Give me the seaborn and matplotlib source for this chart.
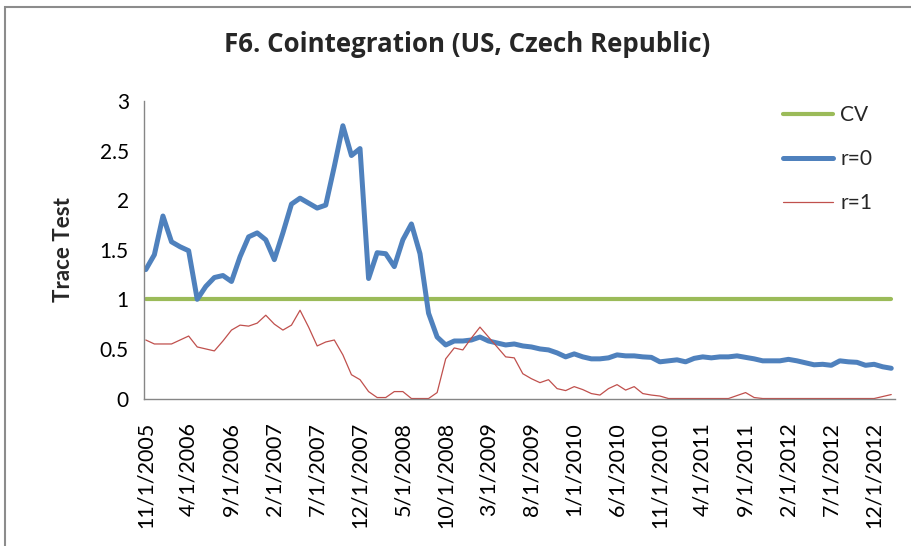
import numpy as np
import pandas as pd
import matplotlib
matplotlib.use("Agg")
import matplotlib.pyplot as plt
import seaborn as sns
from matplotlib.patches import Rectangle

# monthly observations, 11/1/2005 .. 2/1/2013
months = pd.date_range("2005-11-01", "2013-02-01", freq="MS")

# trace test statistics (scaled by the critical value)
r0 = [
    1.30, 1.45, 1.84, 1.58, 1.53, 1.49, 1.00, 1.13, 1.22, 1.24,
    1.18, 1.43, 1.63, 1.67, 1.60, 1.40, 1.67, 1.96, 2.02, 1.97,
    1.92, 1.95, 2.34, 2.75, 2.45, 2.52, 1.21, 1.47, 1.46, 1.33,
    1.60, 1.76, 1.46, 0.86, 0.62, 0.54, 0.58, 0.58, 0.59, 0.62,
    0.58, 0.56, 0.54, 0.55, 0.53, 0.52, 0.50, 0.49, 0.46, 0.42,
    0.45, 0.42, 0.40, 0.40, 0.41, 0.44, 0.43, 0.43, 0.42, 0.415,
    0.37, 0.38, 0.39, 0.37, 0.405, 0.42, 0.41, 0.42, 0.42, 0.43,
    0.415, 0.40, 0.38, 0.38, 0.38, 0.395, 0.38, 0.36, 0.34, 0.345,
    0.335, 0.38, 0.37, 0.365, 0.335, 0.345, 0.32, 0.305,
]
r1 = [
    0.59, 0.55, 0.55, 0.55, 0.59, 0.63, 0.52, 0.50, 0.48, 0.58,
    0.69, 0.74, 0.73, 0.76, 0.84, 0.75, 0.69, 0.74, 0.89, 0.72,
    0.53, 0.57, 0.59, 0.44, 0.24, 0.19, 0.07, 0.01, 0.01, 0.07,
    0.07, 0.0, 0.0, 0.0, 0.06, 0.40, 0.51, 0.49, 0.61, 0.72,
    0.62, 0.52, 0.42, 0.41, 0.25, 0.20, 0.16, 0.19, 0.10, 0.08,
    0.12, 0.09, 0.05, 0.035, 0.10, 0.14, 0.085, 0.12, 0.05, 0.035,
    0.025, 0.0, 0.0, 0.0, 0.0, 0.0, 0.0, 0.0, 0.0, 0.03,
    0.06, 0.01, 0.0, 0.0, 0.0, 0.0, 0.0, 0.0, 0.0, 0.0,
    0.0, 0.0, 0.0, 0.0, 0.0, 0.0, 0.02, 0.04,
]
cv = [1.0] * len(months)

tick_step = 5
tick_labels = [f"{d.month}/1/{d.year}" for d in months[::tick_step]]

df = pd.DataFrame({"idx": np.arange(len(months)), "CV": cv, "r=0": r0, "r=1": r1})

sns.set_theme(style="white")
plt.rcParams['font.family'] = ['Lato', 'DejaVu Sans']

fig = plt.figure(figsize=(9.12, 5.46), dpi=100)
ax = fig.add_axes([0.158, 0.2701, 0.823, 0.545])

sns.lineplot(data=df, x="idx", y="CV", ax=ax, color="#9BBB59", linewidth=3.0, label="CV")
sns.lineplot(data=df, x="idx", y="r=0", ax=ax, color="#4F81BD", linewidth=3.6, label="r=0")
sns.lineplot(data=df, x="idx", y="r=1", ax=ax, color="#C0504D", linewidth=0.9, label="r=1")

ax.set_xlim(-0.2, 87.4)
ax.set_ylim(0, 3)
ax.set_yticks([0, 0.5, 1, 1.5, 2, 2.5, 3])
ax.set_yticklabels(["0", "0.5", "1", "1.5", "2", "2.5", "3"])
ax.set_xticks(df["idx"][::tick_step])
ax.set_xticklabels(tick_labels, rotation=90)
ax.tick_params(axis="y", length=0, pad=11, labelsize=15, colors="black")
ax.tick_params(axis="x", length=0, pad=17, labelsize=15.5, colors="black")

for side in ["top", "right"]:
    ax.spines[side].set_visible(False)
for side in ["left", "bottom"]:
    ax.spines[side].set_color("#868686")
    ax.spines[side].set_linewidth(1.0)

ax.set_xlabel("")
ax.set_ylabel("Trace Test", fontsize=16, fontweight="bold")
ax.yaxis.set_label_coords(-0.094, 0.5)

ax.legend(loc="upper left", bbox_to_anchor=(0.851, 0.985), frameon=False,
          handlelength=2.4, labelspacing=1.14, handletextpad=0.35,
          borderpad=0, borderaxespad=0, fontsize=15)

fig.text(0.512, 0.919, "F6. Cointegration (US, Czech Republic)",
         ha="center", va="center", fontsize=18.6, fontweight="bold",
         family=["Open Sans", "DejaVu Sans"])

# outer chart border (cut off at right/bottom like the reference)
fig.patches.append(Rectangle((0.0055, -0.05), 1.1, 0.987 + 0.05, transform=fig.transFigure,
                             fill=False, edgecolor="#8c8c8c", linewidth=1.5))

fig.savefig("out.png", dpi=100)
